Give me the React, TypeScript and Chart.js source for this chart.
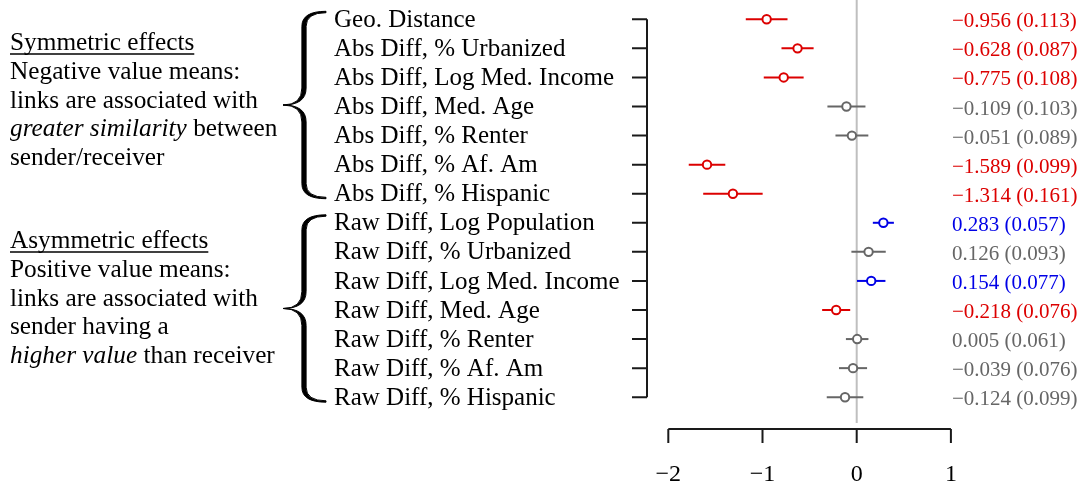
import React, { useEffect, useRef } from "react";
import { Chart, registerables } from "chart.js";

Chart.register(...registerables);

const rowLabels = [
  "Geo. Distance",
  "Abs Diff, % Urbanized",
  "Abs Diff, Log Med. Income",
  "Abs Diff, Med. Age",
  "Abs Diff, % Renter",
  "Abs Diff, % Af. Am",
  "Abs Diff, % Hispanic",
  "Raw Diff, Log Population",
  "Raw Diff, % Urbanized",
  "Raw Diff, Log Med. Income",
  "Raw Diff, Med. Age",
  "Raw Diff, % Renter",
  "Raw Diff, % Af. Am",
  "Raw Diff, % Hispanic",
];
const estimates = [
  -0.956, -0.628, -0.775, -0.109, -0.051, -1.589, -1.314, 0.283, 0.126, 0.154,
  -0.218, 0.005, -0.039, -0.124,
];
const stdErrors = [
  0.113, 0.087, 0.108, 0.103, 0.089, 0.099, 0.161, 0.057, 0.093, 0.077, 0.076,
  0.061, 0.076, 0.099,
];
const xTicks = [-2, -1, 0, 1];
const groupRows = [
  [1, 7],
  [8, 14],
];
const symmetricNote = [
  "Symmetric effects",
  "Negative value means:",
  "links are associated with",
  "*greater similarity* between",
  "sender/receiver",
];
const asymmetricNote = [
  "Asymmetric effects",
  "Positive value means:",
  "links are associated with",
  "sender having a",
  "*higher value* than receiver",
];

const Z = 1.96;
const RED = "#dc0000";
const BLUE = "#0000e6";
const GRAY = "#666666";
const SERIF = "'Liberation Serif', 'Times New Roman', serif";

function colorFor(i: number) {
  const e = estimates[i];
  const s = stdErrors[i];
  if (Math.abs(e) > Z * s) return e < 0 ? RED : BLUE;
  return GRAY;
}

function fmt(v: number) {
  const s = Math.abs(v).toFixed(3);
  return (v < 0 ? "\u2212" : "") + s;
}

function drawBrace(
  ctx: CanvasRenderingContext2D,
  xt: number,
  xs: number,
  xe: number,
  yt: number,
  yb: number,
  w: number,
  rEnd: number,
  rTip: number
) {
  const ym = (yt + yb) / 2;
  ctx.beginPath();
  ctx.moveTo(xe, yt);
  ctx.quadraticCurveTo(xs - w, yt, xs - w, yt + rEnd);
  ctx.lineTo(xs - w, ym - rTip);
  ctx.quadraticCurveTo(xs - w, ym, xt, ym);
  ctx.quadraticCurveTo(xs - w, ym, xs - w, ym + rTip);
  ctx.lineTo(xs - w, yb - rEnd);
  ctx.quadraticCurveTo(xs - w, yb, xe, yb);
  ctx.lineTo(xe, yb - 1.4);
  ctx.quadraticCurveTo(xs + w, yb - 1.4, xs + w, yb - rEnd);
  ctx.lineTo(xs + w, ym + rTip);
  ctx.quadraticCurveTo(xs + w, ym, xt, ym);
  ctx.quadraticCurveTo(xs + w, ym, xs + w, ym - rTip);
  ctx.lineTo(xs + w, yt + rEnd);
  ctx.quadraticCurveTo(xs + w, yt + 1.4, xe, yt + 1.4);
  ctx.closePath();
  ctx.fill();
  ctx.stroke();
}

function drawNote(ctx: CanvasRenderingContext2D, lines: string[], x: number, y0: number, dy: number) {
  ctx.fillStyle = "#000";
  ctx.textAlign = "left";
  ctx.textBaseline = "alphabetic";
  lines.forEach((line, k) => {
    const y = y0 + k * dy;
    let cx = x;
    const parts = line.split("*");
    parts.forEach((p, j) => {
      if (!p) return;
      ctx.font = (j % 2 === 1 ? "italic " : "") + "25.3px " + SERIF;
      ctx.fillText(p, cx, y);
      cx += ctx.measureText(p).width;
    });
    if (k === 0) {
      ctx.strokeStyle = "#000";
      ctx.lineWidth = 1.3;
      ctx.beginPath();
      ctx.moveTo(x, y + 4);
      ctx.lineTo(cx, y + 4);
      ctx.stroke();
    }
  });
}

const forestPlugin = {
  id: "forest",
  beforeDatasetsDraw(chart: any) {
    const { ctx, chartArea, scales } = chart;
    const xs = scales.x;
    const ys = scales.y;
    ctx.save();
    ctx.strokeStyle = "#bfbfbf";
    ctx.lineWidth = 2;
    ctx.beginPath();
    const x0 = xs.getPixelForValue(0);
    ctx.moveTo(x0, chartArea.top);
    ctx.lineTo(x0, chartArea.bottom);
    ctx.stroke();
    ctx.lineWidth = 2;
    estimates.forEach((e, i) => {
      const y = ys.getPixelForValue(i + 1);
      ctx.strokeStyle = colorFor(i);
      ctx.beginPath();
      ctx.moveTo(xs.getPixelForValue(e - Z * stdErrors[i]), y);
      ctx.lineTo(xs.getPixelForValue(e + Z * stdErrors[i]), y);
      ctx.stroke();
    });
    ctx.restore();
  },
  afterDraw(chart: any) {
    const { ctx, chartArea, scales } = chart;
    const xs = scales.x;
    const ys = scales.y;
    ctx.save();
    ctx.strokeStyle = "#1a1a1a";
    ctx.lineWidth = 2;
    const ax = chartArea.left;
    ctx.beginPath();
    ctx.moveTo(ax, ys.getPixelForValue(1));
    ctx.lineTo(ax, ys.getPixelForValue(rowLabels.length));
    rowLabels.forEach((_, i) => {
      const y = ys.getPixelForValue(i + 1);
      ctx.moveTo(ax, y);
      ctx.lineTo(ax - 15, y);
    });
    ctx.stroke();
    const ay = chartArea.bottom + 6;
    ctx.beginPath();
    ctx.moveTo(xs.getPixelForValue(xTicks[0]), ay);
    ctx.lineTo(xs.getPixelForValue(xTicks[xTicks.length - 1]), ay);
    xTicks.forEach((t) => {
      const x = xs.getPixelForValue(t);
      ctx.moveTo(x, ay);
      ctx.lineTo(x, ay + 14);
    });
    ctx.stroke();
    ctx.fillStyle = "#000";
    ctx.font = "24px " + SERIF;
    ctx.textAlign = "center";
    ctx.textBaseline = "alphabetic";
    xTicks.forEach((t) => {
      ctx.fillText(t < 0 ? "\u2212" + Math.abs(t) : String(t), xs.getPixelForValue(t), ay + 52);
    });
    ctx.font = "25px " + SERIF;
    ctx.textAlign = "left";
    rowLabels.forEach((lab, i) => {
      ctx.fillText(lab, 334, ys.getPixelForValue(i + 1) + 7.6);
    });
    ctx.font = "21px " + SERIF;
    estimates.forEach((e, i) => {
      ctx.fillStyle = colorFor(i);
      ctx.fillText(fmt(e) + " (" + stdErrors[i].toFixed(3) + ")", 952, ys.getPixelForValue(i + 1) + 8);
    });
    ctx.fillStyle = "#000";
    ctx.strokeStyle = "#000";
    ctx.lineWidth = 1;
    groupRows.forEach(([a, b]) => {
      const yt = ys.getPixelForValue(a) - 8;
      const yb = ys.getPixelForValue(b) + 5;
      drawBrace(ctx, 283, 304, 326, yt, yb, 2.1, 15, 17);
    });
    drawNote(ctx, symmetricNote, 10, 50, 28.75);
    drawNote(ctx, asymmetricNote, 10, 248, 28.8);
    ctx.restore();
  },
};

export default function App() {
  const ref = useRef<HTMLCanvasElement | null>(null);
  useEffect(() => {
    if (!ref.current) return;
    const chart = new Chart(ref.current, {
      type: "scatter",
      data: {
        datasets: [
          {
            data: estimates.map((e, i) => ({ x: e, y: i + 1 })),
            pointRadius: 4.2,
            pointBorderWidth: 2,
            pointBorderColor: estimates.map((_, i) => colorFor(i)),
            pointBackgroundColor: "#ffffff",
            showLine: false,
          },
        ],
      },
      options: {
        animation: false,
        responsive: false,
        events: [],
        layout: { autoPadding: false, padding: { left: 647, right: 81, top: 0, bottom: 65 } },
        plugins: { legend: { display: false }, tooltip: { enabled: false } },
        scales: {
          x: { type: "linear", min: -2.2262, max: 1.5212, display: false },
          y: { type: "linear", min: 0.336, max: 14.8875, reverse: true, display: false },
        },
      },
      plugins: [forestPlugin],
    });
    return () => chart.destroy();
  }, []);
  return (
    <div style={{ position: "absolute", left: 0, top: 0, width: 1081, height: 488, background: "#fff" }}>
      <canvas ref={ref} width={1081} height={488} style={{ display: "block" }} />
    </div>
  );
}
